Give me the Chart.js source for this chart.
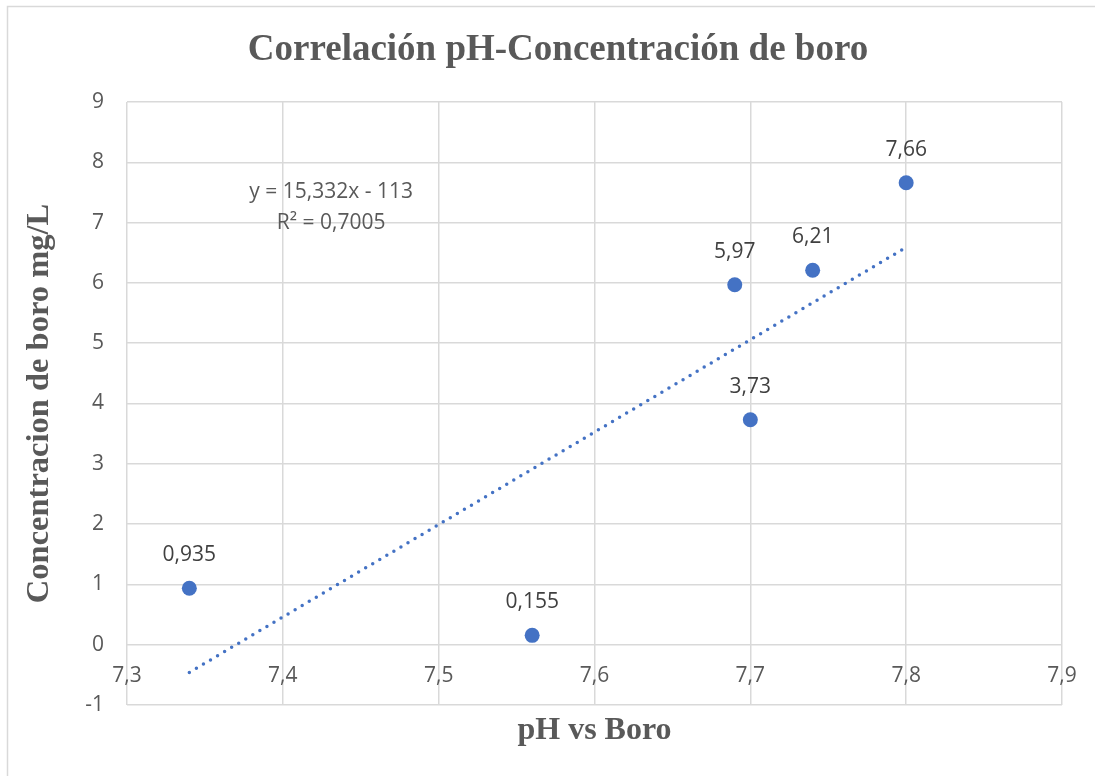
<!DOCTYPE html>
<html>
<head>
<meta charset="utf-8">
<script src="https://cdn.jsdelivr.net/npm/chart.js@4.4.1/dist/chart.umd.min.js"></script>
<style>
  html, body { margin: 0; padding: 0; background: #ffffff; }
  #wrap { width: 1095px; height: 776px; }
</style>
</head>
<body>
<div id="wrap"><canvas id="c" width="1095" height="776"></canvas></div>
<script>
// ---- data ----
const chartTitle = 'Correlación pH-Concentración de boro';
const xAxisTitle = 'pH vs Boro';
const yAxisTitle = 'Concentracion de boro mg/L';
const xTickValues = [7.3, 7.4, 7.5, 7.6, 7.7, 7.8, 7.9];
const yTickValues = [-1, 0, 1, 2, 3, 4, 5, 6, 7, 8, 9];
const phValues = [7.34, 7.56, 7.69, 7.70, 7.74, 7.80];
const boroValues = [0.935, 0.155, 5.97, 3.73, 6.21, 7.66];
const trendX = [7.34, 7.80];
const trendY = [-0.46, 6.59];
const equationLines = ['y = 15,332x - 113', 'R² = 0,7005'];

const fmt = v => String(v).replace('.', ',');

const bgPlugin = {
  id: 'bgFrame',
  beforeDraw(chart) {
    const ctx = chart.ctx;
    ctx.save();
    ctx.fillStyle = '#ffffff';
    ctx.fillRect(0, 0, chart.width, chart.height);
    ctx.strokeStyle = '#d9d9d9';
    ctx.lineWidth = 1.5;
    ctx.strokeRect(7.5, 6.5, chart.width + 20, chart.height + 20);
    ctx.restore();
  }
};

const textPlugin = {
  id: 'texts',
  afterDraw(chart) {
    const ctx = chart.ctx;
    const xs = chart.scales.x, ys = chart.scales.y;
    ctx.save();
    ctx.textAlign = 'center';
    ctx.textBaseline = 'middle';
    // main title
    ctx.fillStyle = '#595959';
    ctx.font = 'bold 37px "Liberation Serif", "Times New Roman", serif';
    ctx.fillText(chartTitle, 558, 50);
    // x tick labels along the zero line
    ctx.font = '21px "Open Sans", sans-serif';
    const zeroY = ys.getPixelForValue(0);
    xs.ticks.forEach(t => {
      ctx.fillText(fmt(Number(t.value).toFixed(1)), xs.getPixelForValue(t.value), zeroY + 31);
    });
    // point labels
    ctx.fillStyle = '#404040';
    const meta = chart.getDatasetMeta(1);
    meta.data.forEach((pt, i) => {
      ctx.fillText(fmt(boroValues[i]), pt.x, pt.y - 33);
    });
    // trendline equation
    ctx.fillStyle = '#595959';
    const ex = xs.getPixelForValue(7.431);
    ctx.fillText(equationLines[0], ex, ys.getPixelForValue(7.5));
    ctx.fillText(equationLines[1], ex, ys.getPixelForValue(7.0));
    ctx.restore();
  }
};

new Chart(document.getElementById('c'), {
  type: 'scatter',
  data: {
    datasets: [
      {
        label: 'Lineal',
        type: 'line',
        data: trendX.map((x, i) => ({ x: x, y: trendY[i] })),
        borderColor: '#4472c4',
        borderWidth: 3.5,
        borderDash: [0, 8.2],
        borderCapStyle: 'round',
        pointRadius: 0,
        fill: false,
        tension: 0
      },
      {
        label: 'Boro',
        data: phValues.map((x, i) => ({ x: x, y: boroValues[i] })),
        backgroundColor: '#4472c4',
        borderColor: '#4472c4',
        pointRadius: 7.5,
        pointHoverRadius: 7.5,
        borderWidth: 0
      }
    ]
  },
  options: {
    responsive: false,
    animation: false,
    events: [],
    layout: { padding: { top: 102, right: 33, bottom: 0, left: 0 } },
    plugins: {
      legend: { display: false },
      title: { display: false },
      tooltip: { enabled: false }
    },
    scales: {
      x: {
        type: 'linear',
        min: 7.3,
        max: 7.9,
        afterBuildTicks: s => { s.ticks = xTickValues.map(v => ({ value: v })); },
        afterFit: s => { s.height = 71; },
        border: { display: false },
        grid: { color: '#d9d9d9', lineWidth: 1.5, drawTicks: false },
        ticks: { display: false },
        title: {
          display: true,
          text: xAxisTitle,
          color: '#595959',
          font: { family: '"Liberation Serif", "Times New Roman", serif', size: 32, weight: 'bold' },
          padding: { top: 0, bottom: 26 }
        }
      },
      y: {
        type: 'linear',
        min: -1,
        max: 9,
        afterBuildTicks: s => { s.ticks = yTickValues.map(v => ({ value: v })); },
        afterFit: s => { s.width = 127; },
        border: { display: false },
        grid: { color: '#d9d9d9', lineWidth: 1.5, drawTicks: false },
        ticks: {
          padding: 23,
          color: '#595959',
          font: { family: '"Open Sans", sans-serif', size: 21 },
          callback: v => fmt(v)
        },
        title: {
          display: true,
          text: yAxisTitle,
          color: '#595959',
          font: { family: '"Liberation Serif", "Times New Roman", serif', size: 32.5, weight: 'bold' },
          padding: { top: 20, bottom: 0 }
        }
      }
    }
  },
  plugins: [bgPlugin, textPlugin]
});
</script>
</body>
</html>
